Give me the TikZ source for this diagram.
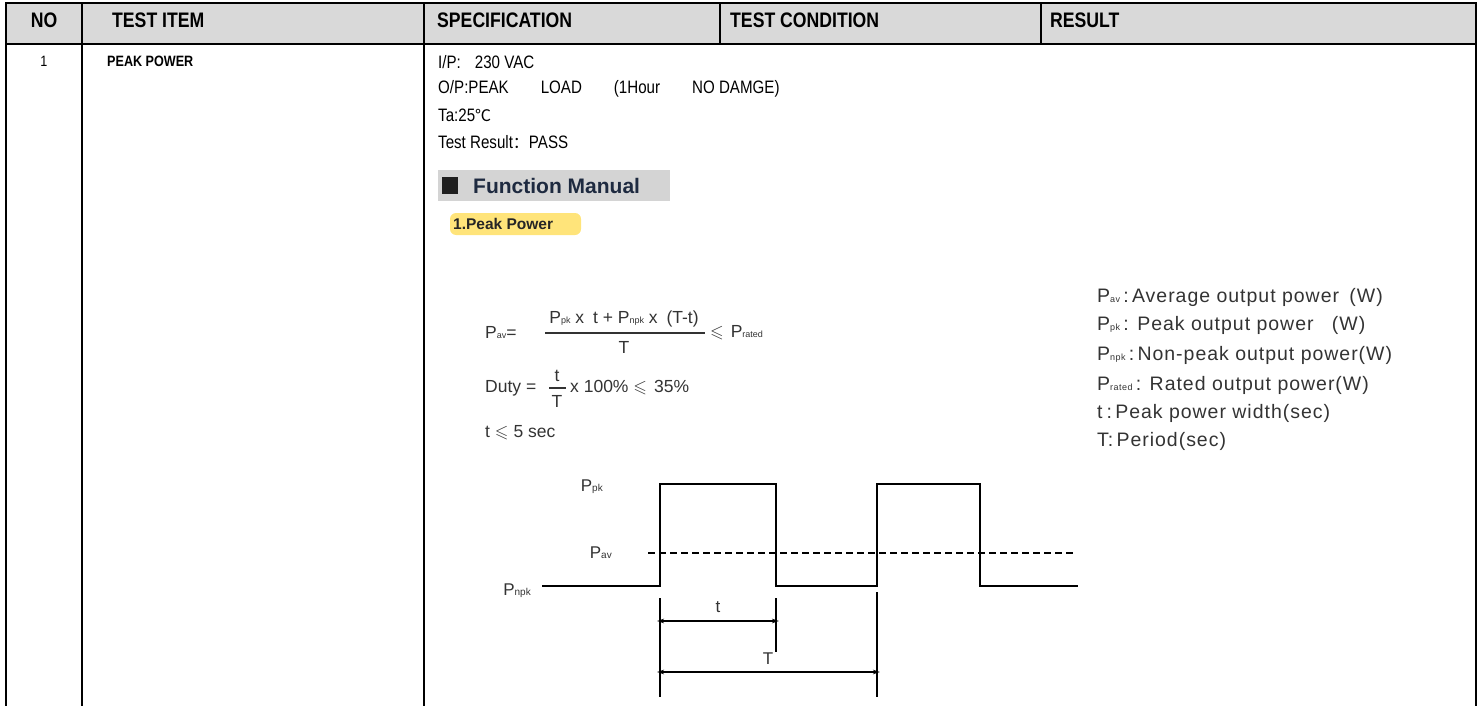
\documentclass[tikz,border=0pt]{standalone}
\usepackage{fontspec}
\usepackage{amssymb}
\setmainfont{Liberation Sans}
\newfontfamily\narrowf[FakeStretch=0.84]{Liberation Sans}
\newfontfamily\cjkf{Noto Sans CJK SC}
\usetikzlibrary{arrows.meta}
\definecolor{hdrgray}{HTML}{D9D9D9}
\definecolor{boxgray}{HTML}{D4D4D4}
\definecolor{navy}{HTML}{1E2A40}
\definecolor{hilite}{HTML}{FFE47A}
\definecolor{txtgray}{HTML}{333333}
\newcommand\lowsub[1]{{\fontsize{9}{9}\selectfont #1}}
\newcommand\lsub[1]{{\fontsize{10}{10}\selectfont #1}}
\begin{document}
\begin{tikzpicture}[x=1pt,y=-1pt,
  rule/.style={line width=2.4pt,black},
  thinrule/.style={line width=2pt,black},
  hdr/.style={font=\narrowf\bfseries\fontsize{21}{23}\selectfont,inner sep=0pt,anchor=west},
  cell/.style={font=\narrowf\fontsize{18}{20}\selectfont,inner sep=0pt,anchor=west},
  cellb/.style={font=\narrowf\bfseries\fontsize{15}{17}\selectfont,inner sep=0pt},
  fml/.style={font=\fontsize{17.5}{19}\selectfont,text=txtgray,inner sep=0pt},
  leg/.style={font=\fontsize{19.5}{21}\selectfont\addfontfeature{LetterSpace=5},text=txtgray,inner sep=0pt,anchor=west},
  wave/.style={line width=1.5pt,black},
  dim/.style={line width=1.2pt,black},
  dimarrow/.style={line width=1.2pt,black,{Stealth[length=7pt,width=4.5pt]}-{Stealth[length=7pt,width=4.5pt]}},
  lbl/.style={font=\fontsize{17}{19}\selectfont,text=txtgray,inner sep=0pt}]
\useasboundingbox (0,0) rectangle (1483,706);
% header
\fill[hdrgray] (6,3) rectangle (1476,44);
\draw[rule] (6,706) -- (6,3) -- (1476,3) -- (1476,706);
\draw[rule] (6,44) -- (1476,44);
\draw[thinrule] (82,3) -- (82,706);
\draw[thinrule] (424,3) -- (424,706);
\draw[thinrule] (720,3) -- (720,44);
\draw[thinrule] (1041,3) -- (1041,44);
\node[hdr,anchor=center] (hno) at (44,20) {NO};
\node[hdr] (hitem) at (112,20) {TEST ITEM};
\node[hdr] (hspec) at (437,20) {SPECIFICATION};
\node[hdr] (hcond) at (730,20) {TEST CONDITION};
\node[hdr] (hres) at (1050,20) {RESULT};
% row 1
\node[cell,anchor=center,font=\narrowf\fontsize{15}{17}\selectfont] (no1) at (44,61) {1};
\node[cellb,anchor=west] (item1) at (107,61) {PEAK POWER};
\node[cell] (s1) at (438,62) {I/P:\hspace{14pt}230 VAC};
\node[cell] (s2) at (438,89) {O/P:PEAK\hspace{32pt}LOAD\hspace{32pt}(1Hour\hspace{32pt}NO DAMGE)};
\node[cell] (s3) at (438,115) {Ta:25{\cjkf\fontsize{16}{18}\selectfont ℃}};
\node[cell] (s4) at (438,142) {Test Result{\cjkf\fontsize{16}{18}\selectfont ：}PASS};
% function manual
\fill[boxgray] (438,170) rectangle (670,201);
\fill[black!88] (442,177) rectangle (458,194);
\node[font=\bfseries\fontsize{21}{23}\selectfont,text=navy,inner sep=0pt,anchor=west] (fm) at (473,186) {Function Manual};
\fill[hilite,rounded corners=6pt] (450,213) rectangle (581,235);
\node[font=\bfseries\fontsize{15.5}{17}\selectfont,text=black!85,inner sep=0pt,anchor=west] (pp) at (453,224) {1.Peak Power};
% formula 1
\node[fml,anchor=west] (pav) at (485,333) {P\lowsub{av}=};
\node[fml] (num) at (624,319) {P\lowsub{pk} x\hspace{4pt} t + P\lowsub{npk} x\hspace{4pt} (T-t)};
\coordinate (barL) at (545,333);
\coordinate (barR) at (705,333);
\draw[line width=1.3pt,txtgray] (barL) -- (barR);
\node[fml] (den) at (624,347) {T};
\node[fml,anchor=west] (le1) at (710,333) {$\leqslant$\hspace{7pt}P\lowsub{rated}};
% formula 2
\node[fml,anchor=west] (duty) at (485,388) {Duty =};
\node[fml] (dt) at (557,376) {t};
\coordinate (bar2L) at (549,388);
\coordinate (bar2R) at (566,388);
\draw[line width=1.3pt,txtgray] (bar2L) -- (bar2R);
\node[fml] (dT) at (557,401) {T};
\node[fml,anchor=west] (dr) at (570,388) {x 100\% $\leqslant$\hspace{7pt}35\%};
% formula 3
\node[fml,anchor=west] (tle) at (485,433) {t $\leqslant$\hspace{5pt}5 sec};
% legend
\node[leg] (l1) at (1097,297) {P\lowsub{av}\,:\,Average output power\hspace{4pt} (W)};
\node[leg] (l2) at (1097,325) {P\lowsub{pk}\,: Peak output power\hspace{12pt} (W)};
\node[leg] (l3) at (1097,355) {P\lowsub{npk}\,:\,Non-peak output power(W)};
\node[leg] (l4) at (1097,385) {P\lowsub{rated}\,: Rated output power(W)};
\node[leg] (l5) at (1097,413) {t\hspace{4pt}:\,Peak power width(sec)};
\node[leg] (l6) at (1097,441) {T:\,Period(sec)};
% waveform
\coordinate (w0) at (542,586);
\coordinate (w1) at (660,586);
\coordinate (w2) at (660,484);
\coordinate (w3) at (776,484);
\coordinate (w4) at (776,586);
\coordinate (w5) at (877,586);
\coordinate (w6) at (877,484);
\coordinate (w7) at (980,484);
\coordinate (w8) at (980,586);
\coordinate (w9) at (1078,586);
\draw[wave] (w0) -- (w1) -- (w2) -- (w3) -- (w4) -- (w5) -- (w6) -- (w7) -- (w8) -- (w9);
\coordinate (avL) at (648,553);
\coordinate (avR) at (1076,553);
\draw[line width=1.2pt,dash pattern=on 7pt off 4pt] (avL) -- (avR);
\node[lbl,anchor=east] (lpk) at (603,487) {P\lsub{pk}};
\node[lbl,anchor=east] (lav) at (612,553) {P\lsub{av}};
\node[lbl,anchor=east] (lnpk) at (531,591) {P\lsub{npk}};
% dimensions
\coordinate (e1t) at (660,598); \coordinate (e1b) at (660,697);
\coordinate (e2t) at (776,598); \coordinate (e2b) at (776,652);
\coordinate (e3t) at (877,592); \coordinate (e3b) at (877,697);
\draw[dim] (e1t) -- (e1b);
\draw[dim] (e2t) -- (e2b);
\draw[dim] (e3t) -- (e3b);
\coordinate (ta) at (657,621); \coordinate (tb) at (779,621);
\coordinate (Ta) at (657,672); \coordinate (Tb) at (880,672);
\draw[dimarrow] (ta) -- (tb);
\draw[dimarrow] (Ta) -- (Tb);
\node[lbl] (tl) at (718,607) {t};
\node[lbl] (Tl) at (768,659) {T};
\end{tikzpicture}
\end{document}
